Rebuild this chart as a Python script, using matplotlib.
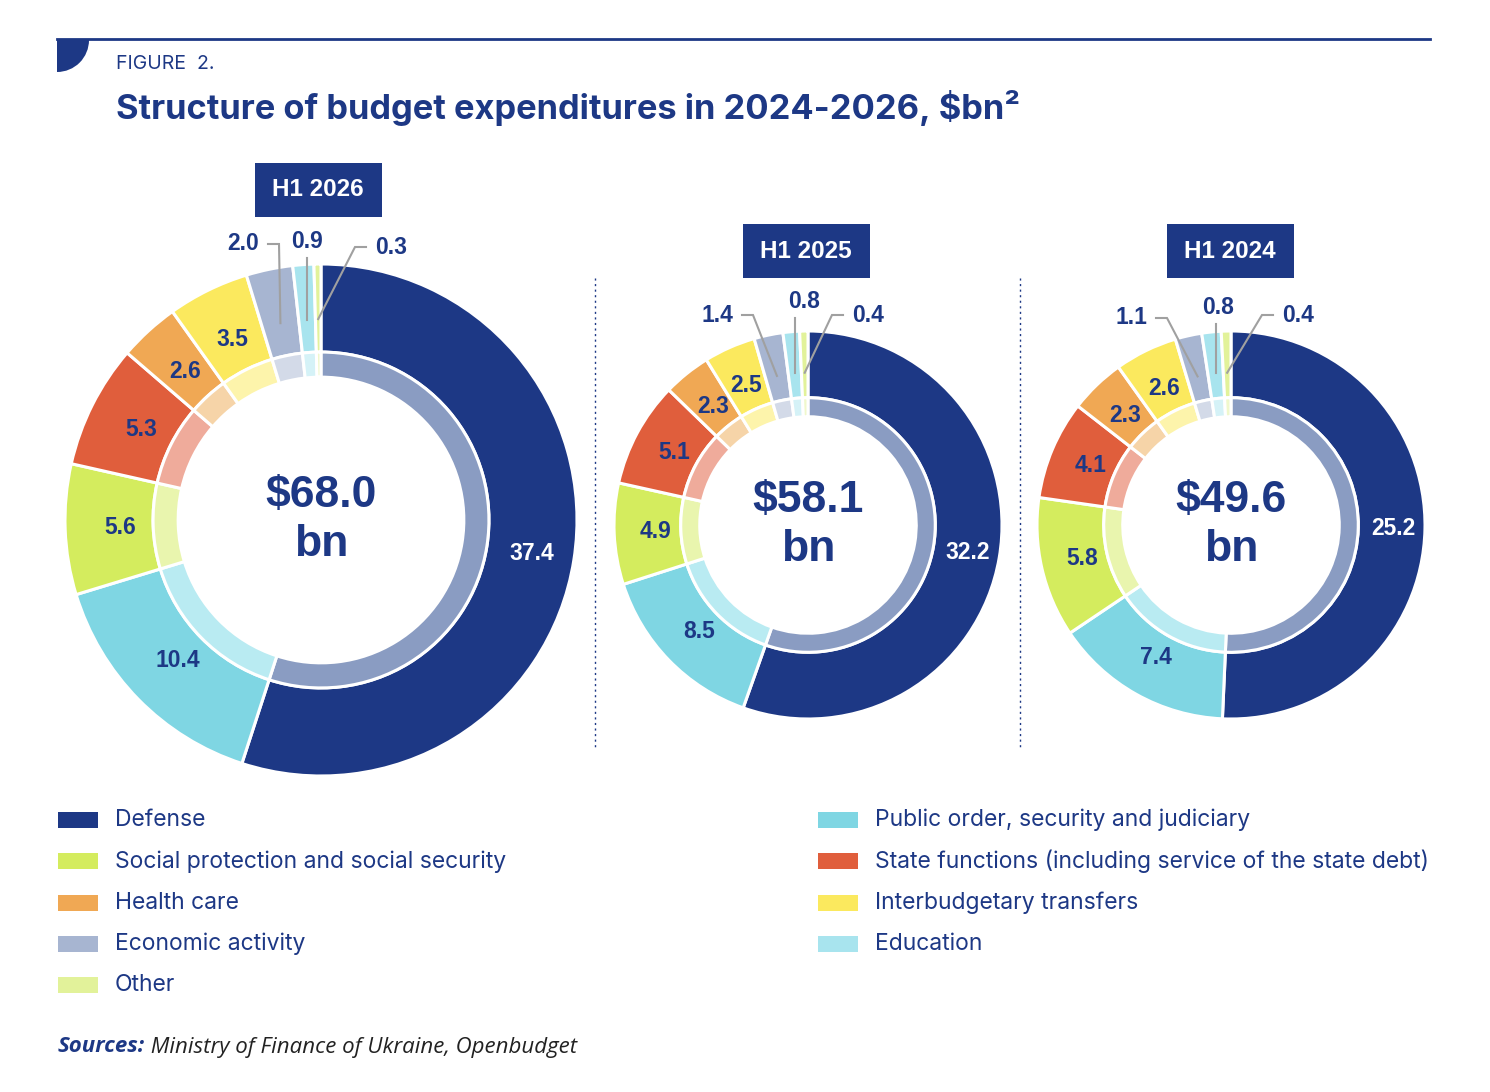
import matplotlib.pyplot as plt
import numpy as np
from matplotlib.patches import Rectangle, Wedge

# Categories, clockwise from 12 o'clock
categories = ["Defense", "Public order, security and judiciary",
              "Social protection and social security",
              "State functions (including service of the state debt)",
              "Health care", "Interbudgetary transfers",
              "Economic activity", "Education", "Other"]
outer_colors = ["#1d3885", "#7fd6e3", "#d4ec5e", "#e05e3c", "#f0a854",
                "#fbe95e", "#a7b5d1", "#a8e4ee", "#e2f29a"]
inner_colors = ["#8a9cc2", "#b9ebf2", "#e9f5ae", "#efab9b", "#f6d4a8",
                "#fdf4ab", "#d3dae8", "#d5f2f7", "#f0f8cc"]

periods = ["H1 2026", "H1 2025", "H1 2024"]
totals = ["$68.0\nbn", "$58.1\nbn", "$49.6\nbn"]
v2026 = [37.4, 10.4, 5.6, 5.3, 2.6, 3.5, 2.0, 0.9, 0.3]
v2025 = [32.2, 8.5, 4.9, 5.1, 2.3, 2.5, 1.4, 0.8, 0.4]
v2024 = [25.2, 7.4, 5.8, 4.1, 2.3, 2.6, 1.1, 0.8, 0.4]
values = [v2026, v2025, v2024]

legend_left = [0, 2, 4, 6, 8]
legend_right = [1, 3, 5, 7]

NAVY = "#1d3885"

# layout (pixel coords, y down)
centers = [(321, 520), (808, 525), (1231, 525)]
radii = [256, 194, 194]
boxes = [(318, 190), (806, 251), (1230, 251)]
# external label offsets for the last three slices (dx, dy from centre)
ext_offsets = [
    [(-78, -276), (-14, -278), (70, -273)],
    [(-91, -210), (-4, -223), (60, -210)],
    [(-100, -207), (-13, -217), (67, -210)],
]

fig = plt.figure(figsize=(14.9, 10.92), dpi=100)
ax = fig.add_axes([0, 0, 1, 1])

for k in range(3):
    cx, cy = centers[k]
    R = radii[k]
    # inverted y axis: start at top, go clockwise on screen
    wedges, _ = ax.pie(values[k], radius=R, center=(cx, cy), startangle=-90,
                       counterclock=True, colors=outer_colors,
                       wedgeprops=dict(width=R * 0.344, edgecolor="white", linewidth=2.2))
    ax.pie(values[k], radius=R * 0.656, center=(cx, cy), startangle=-90,
           counterclock=True, colors=inner_colors,
           wedgeprops=dict(width=R * 0.098, edgecolor="white", linewidth=2.2))

    for i, w in enumerate(wedges):
        th = np.deg2rad((w.theta1 + w.theta2) / 2)
        rl = R * (0.835 if i == 0 else 0.785)
        lx, ly = cx + rl * np.cos(th), cy + rl * np.sin(th)
        txt = f"{values[k][i]:.1f}"
        if i < 6:
            ax.text(lx, ly, txt, ha="center", va="center", fontsize=16.5,
                    fontweight="bold", family="Liberation Sans",
                    color="white" if i == 0 else NAVY)
        else:
            dx, dy = ext_offsets[k][i - 6]
            tx, ty = cx + dx, cy + dy
            ax.text(tx, ty, txt, ha="center", va="center", fontsize=16.5,
                    fontweight="bold", family="Liberation Sans", color=NAVY)
            if abs(tx - lx) < 12:
                xs, ys = [lx, lx], [ty + 16, ly]
            elif tx < lx:
                xs, ys = [tx + 25, tx + 36, lx], [ty, ty, ly]
            else:
                xs, ys = [tx - 25, tx - 36, lx], [ty, ty, ly]
            ax.plot(xs, ys, color="#a0a0a0", lw=1.5, solid_joinstyle="miter")

    ax.text(cx, cy, totals[k], ha="center", va="center", fontsize=32,
            fontweight="bold", family="Liberation Sans", color=NAVY,
            linespacing=1.22)

    bx, by = boxes[k]
    ax.add_patch(Rectangle((bx - 63, by - 27), 127, 54, color=NAVY, lw=0))
    ax.text(bx, by, periods[k], ha="center", va="center", fontsize=17.5,
            fontweight="bold", family="Liberation Sans", color="white")

# dotted separators
for sx in [595, 1020]:
    ax.plot([sx, sx], [278, 748], color=NAVY, lw=1, ls=(0, (1.5, 2.5)))

# header
ax.plot([57, 1430], [39, 39], color=NAVY, lw=2)
ax.add_patch(Wedge((57, 40), 32, 0, 90, color=NAVY, lw=0))
ax.text(116, 64, "FIGURE  2.", ha="left", va="center", fontsize=14,
        family="Inter", color=NAVY)
ax.text(116, 108, "Structure of budget expenditures in 2024-2026, $bn²",
        ha="left", va="center", fontsize=24.8, fontweight="bold",
        family="Inter", color=NAVY)

# legend
for col, (idx, px) in enumerate([(legend_left, 58), (legend_right, 818)]):
    for r, i in enumerate(idx):
        yy = 820 + r * 41.3
        ax.add_patch(Rectangle((px, yy - 8), 40, 16, color=outer_colors[i], lw=0))
        ax.text(px + 57, yy, categories[i], ha="left", va="center",
                fontsize=16.5, family="Inter", color=NAVY)

# sources
t = ax.text(58, 1047, "Sources:", ha="left", va="center", fontsize=16,
            fontweight="bold", style="italic",
            family=["Open Sans", "DejaVu Sans"], color=NAVY)
ax.set_xlim(0, 1490)
ax.set_ylim(1092, 0)
ax.set_aspect("equal")
ax.axis("off")
fig.canvas.draw()
x_end = ax.transData.inverted().transform(t.get_window_extent().get_points())[1, 0]
ax.text(x_end, 1047, " Ministry of Finance of Ukraine, Openbudget", ha="left",
        va="center", fontsize=16, style="italic",
        family=["Open Sans", "DejaVu Sans"], color="#222222")

fig.savefig("out.png", dpi=100, facecolor="white")
